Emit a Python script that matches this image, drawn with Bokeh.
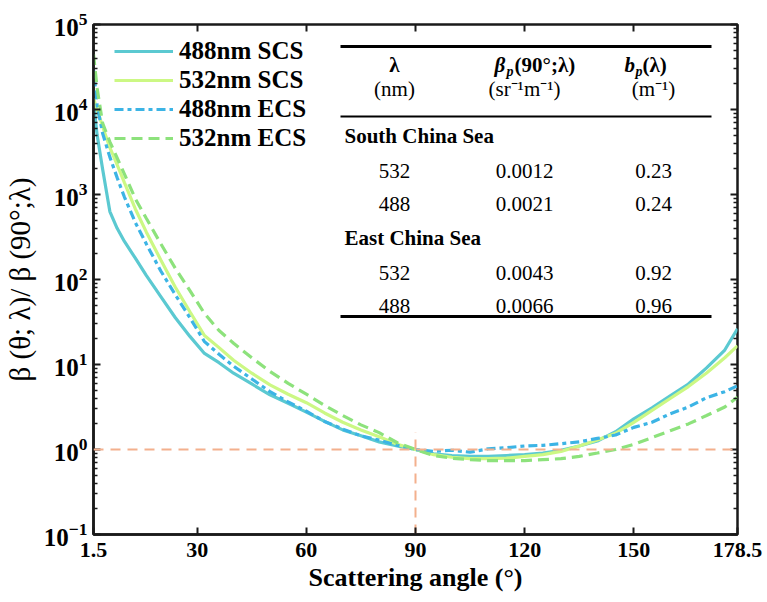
from bokeh.plotting import figure
from bokeh.models import (LogAxis, LinearAxis, FixedTicker, Span, Legend, LegendItem,
                          Label, BoxAnnotation, CustomJSTickFormatter)
from bokeh.embed import file_html
from bokeh.resources import INLINE

# ---------------- data ----------------
angles = [1.5, 2.5, 4, 6, 8, 10, 13, 16, 20, 24, 28, 32, 36, 40, 45, 50, 55, 60, 65, 70,
          75, 80, 85, 90, 95, 100, 105, 110, 115, 120, 125, 130, 135, 140, 145, 150, 155,
          160, 165, 170, 175, 178.5]

scs_488 = [12000, 5000, 2000, 630, 400, 280, 178, 112, 63, 35.5, 21.4, 13.5, 10.5, 7.9,
           5.9, 4.4, 3.5, 2.75, 2.14, 1.70, 1.45, 1.23, 1.10, 1.0, 0.89, 0.85, 0.83, 0.83,
           0.85, 0.87, 0.91, 0.98, 1.10, 1.26, 1.62, 2.29, 3.09, 4.27, 5.89, 9.12, 14.8, 26.3]

scs_532 = [13500, 10000, 6300, 3550, 2240, 1380, 676, 363, 170, 81, 41.7, 21.9, 15.8, 11.2,
           7.9, 5.75, 4.47, 3.55, 2.69, 2.09, 1.70, 1.41, 1.15, 1.0, 0.87, 0.81, 0.78, 0.78,
           0.79, 0.83, 0.87, 0.95, 1.10, 1.29, 1.55, 2.09, 2.88, 3.98, 5.50, 7.94, 12.0, 16.6]

ecs_488 = [29500, 11200, 5250, 2750, 1580, 933, 468, 263, 126, 66, 35.5, 18.6, 13.2, 9.55,
           6.76, 4.79, 3.63, 2.82, 2.14, 1.74, 1.45, 1.29, 1.12, 1.0, 0.95, 0.98, 0.93, 1.02,
           1.05, 1.10, 1.12, 1.17, 1.23, 1.35, 1.48, 1.82, 2.09, 2.63, 3.16, 4.07, 4.79, 5.62]

ecs_532 = [44700, 17800, 6900, 4170, 2690, 1740, 891, 525, 263, 135, 74, 39.8, 25.1, 17.8,
           12.0, 8.3, 6.0, 4.47, 3.31, 2.51, 1.95, 1.58, 1.20, 1.0, 0.85, 0.79, 0.76, 0.74,
           0.74, 0.74, 0.76, 0.78, 0.83, 0.91, 1.0, 1.15, 1.38, 1.66, 2.0, 2.51, 3.16, 4.12]

series_names = ["488nm SCS", "532nm SCS", "488nm ECS", "532nm ECS"]

x_ticks = [1.5, 30, 60, 90, 120, 150, 178.5]
y_ticks = [0.1, 1, 10, 100, 1000, 10000, 100000]

ref_ratio = 1.0
ref_angle = 90
ref_angle_top = 1.6

# table contents
table_header = ["λ", "β", "p", "(90°;λ)", "b", "p", "(λ)"]
table_units = ["(nm)", "(sr⁻¹m⁻¹)", "(m⁻¹)"]
table_sections = ["South China Sea", "East China Sea"]
table_wavelength = [["532", "488"], ["532", "488"]]
table_beta90 = [["0.0012", "0.0021"], ["0.0043", "0.0066"]]
table_bp = [["0.23", "0.24"], ["0.92", "0.96"]]

# ---------------- figure ----------------
SERIF = "Liberation Serif"
FL, FR, FT, FB = 92, 30, 24, 68
W, H = 767, 602

p = figure(width=W, height=H, x_range=(1.5, 178.5), y_range=(0.1, 1e5),
           y_axis_type="log", output_backend="svg", toolbar_location=None,
           min_border_left=FL, min_border_right=FR, min_border_top=FT, min_border_bottom=FB)
p.xgrid.grid_line_color = None
p.ygrid.grid_line_color = None
p.outline_line_color = "#1a1a1a"
p.outline_line_width = 2.5
p.background_fill_color = "white"
p.border_fill_color = "white"

minor_y = [m * 10 ** e for e in range(-1, 5) for m in range(2, 10)]

xa = p.xaxis[0]
xa.ticker = FixedTicker(ticks=x_ticks)
xa.formatter = CustomJSTickFormatter(code="return tick.toString()")
ya = p.yaxis[0]
ya.ticker = FixedTicker(ticks=y_ticks, minor_ticks=minor_y)

for ax in (xa, ya):
    ax.axis_line_width = 2.5
    ax.axis_line_color = "#1a1a1a"
    ax.major_tick_in = 7
    ax.major_tick_out = 0
    ax.minor_tick_in = 4
    ax.minor_tick_out = 0
    ax.major_tick_line_width = 2
    ax.minor_tick_line_width = 1.5
    ax.major_tick_line_color = "#1a1a1a"
    ax.minor_tick_line_color = "#1a1a1a"
    ax.major_label_text_font = SERIF
    ax.major_label_text_font_style = "bold"
    ax.major_label_text_color = "black"
    ax.axis_label_text_font = SERIF
    ax.axis_label_text_color = "black"

xa.minor_tick_in = 0
xa.major_label_text_font_size = "22px"
xa.major_label_standoff = 8
xa.axis_label = "Scattering angle (°)"
xa.axis_label_text_font_size = "26px"
xa.axis_label_text_font_style = "bold"
xa.axis_label_standoff = 3

ya.major_label_text_font_size = "25px"
ya.major_label_standoff = 6
ya.axis_label = "β (θ; λ)/ β (90°;λ)"
ya.axis_label_text_font_size = "29px"
ya.axis_label_text_font_style = "normal"
ya.axis_label_standoff = 5

# mirrored axes (ticks only)
top_ax = LinearAxis(ticker=FixedTicker(ticks=x_ticks), major_tick_in=7, major_tick_out=0,
                    minor_tick_in=0, minor_tick_out=0, axis_line_color=None,
                    major_tick_line_width=2, major_tick_line_color="#1a1a1a",
                    major_label_text_font_size="1px", major_label_text_color=None)
right_ax = LogAxis(ticker=FixedTicker(ticks=y_ticks, minor_ticks=minor_y), major_tick_in=7,
                   major_tick_out=0, minor_tick_in=4, minor_tick_out=0, axis_line_color=None,
                   major_tick_line_width=2, minor_tick_line_width=1.5,
                   major_tick_line_color="#1a1a1a", minor_tick_line_color="#1a1a1a",
                   major_label_text_font_size="1px", major_label_text_color=None)
p.add_layout(top_ax, "above")
p.add_layout(right_ax, "right")

# ---------------- curves ----------------
colors = ["#5BC9D1", "#CCF884", "#3CB4E5", "#8DE27C"]
dashes = ["solid", "solid", "9 4 4 4", "11 6"]
renderers = []
for ys, c, d in zip([scs_488, scs_532, ecs_488, ecs_532], colors, dashes):
    r = p.line(angles, ys, line_color=c, line_width=3.2, line_dash=d)
    renderers.append(r)

# reference lines
orange = "#F3B08D"
p.add_layout(Span(location=ref_ratio, dimension="width", line_color=orange,
                  line_width=2, line_dash="10 7"))
p.segment(x0=[ref_angle], y0=[0.1], x1=[ref_angle], y1=[ref_angle_top],
          line_color=orange, line_width=2, line_dash="10 7")

# ---------------- legend ----------------
legend = Legend(items=[LegendItem(label=n, renderers=[r]) for n, r in zip(series_names, renderers)],
                location=(21, 382), padding=0, margin=0, spacing=1,
                glyph_width=59, glyph_height=20, label_height=20, label_standoff=6,
                label_text_font=SERIF, label_text_font_style="bold",
                label_text_font_size="25px", label_text_color="black",
                background_fill_alpha=0, border_line_color=None)
p.add_layout(legend)

# ---------------- table (screen units relative to frame) ----------------
def fx(x):
    return x - FL

def fy(y):
    return (H - FB) - y

def add_text(x, y, text, size="21px", style="normal", align="center"):
    p.add_layout(Label(x=fx(x), y=fy(y), x_units="screen", y_units="screen", text=text,
                       text_font=SERIF, text_font_size=size, text_font_style=style,
                       text_align=align, text_baseline="middle", text_color="black"))

def add_rule(x0, x1, y, thick):
    p.add_layout(BoxAnnotation(left=fx(x0), right=fx(x1), top=fy(y - thick / 2),
                               bottom=fy(y + thick / 2), left_units="screen",
                               right_units="screen", top_units="screen", bottom_units="screen",
                               fill_color="black", fill_alpha=1, line_color=None))

add_rule(339, 710, 46, 3)
add_rule(339, 710, 116, 2)
add_rule(339, 710, 316, 3)

col_x = [393, 523, 652]
# header
add_text(col_x[0], 64, table_header[0], style="bold")
add_text(493, 64, table_header[1], style="bold italic", align="left")
add_text(505, 71, table_header[2], size="14px", style="bold italic", align="left")
add_text(513, 64, table_header[3], style="bold", align="left")
add_text(623, 64, table_header[4], style="bold italic", align="left")
add_text(634, 71, table_header[5], size="14px", style="bold italic", align="left")
add_text(641, 64, table_header[6], style="bold", align="left")
for cx, u in zip(col_x, table_units):
    add_text(cx, 88, u)

section_y = [135, 237]
row_y = [[170, 203], [272, 305]]
for s in range(2):
    add_text(343, section_y[s], table_sections[s], style="bold", align="left")
    for r in range(2):
        add_text(col_x[0], row_y[s][r], table_wavelength[s][r])
        add_text(col_x[1], row_y[s][r], table_beta90[s][r])
        add_text(col_x[2], row_y[s][r], table_bp[s][r])

open("out.html", "w").write(file_html(p, INLINE))
